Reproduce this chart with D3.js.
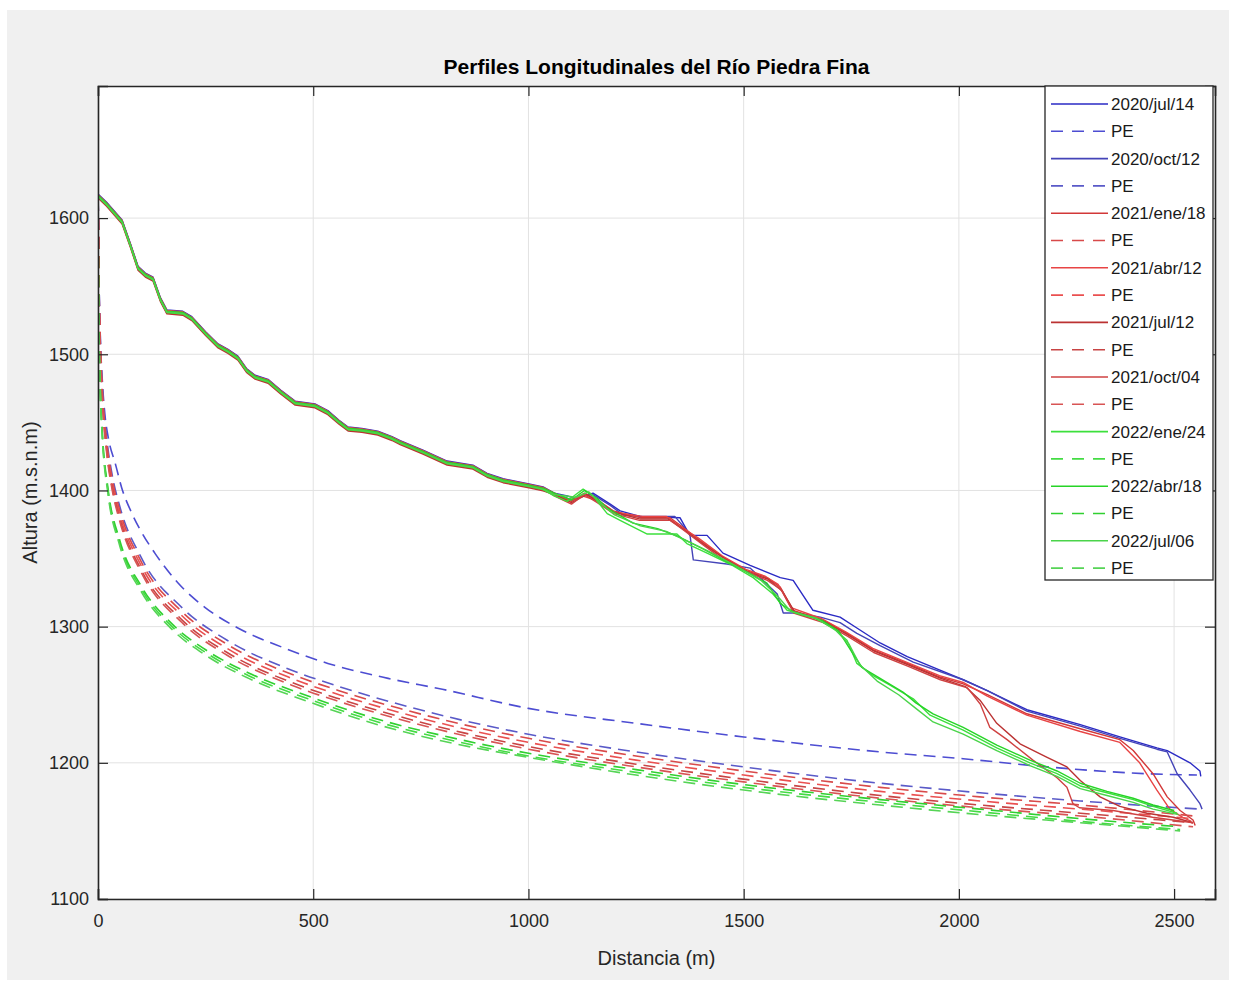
<!DOCTYPE html>
<html>
<head>
<meta charset="utf-8">
<script src="https://cdn.jsdelivr.net/npm/d3@7"></script>
<style>
  html, body { margin: 0; padding: 0; background: #ffffff; }
  svg { display: block; font-family: "Liberation Sans", Arial, Helvetica, sans-serif; }
</style>
</head>
<body>
<svg id="chart" width="1235" height="985"></svg>
<script>
// ---- Data -------------------------------------------------------------
const xTicks = [0, 500, 1000, 1500, 2000, 2500];
const yTicks = [1100, 1200, 1300, 1400, 1500, 1600];

// Shared upstream part of the surveyed river bed (distance m, elevation m.s.n.m)
const profileHead = [
  [0,1616],[20,1610],[56,1597],[75,1580],[93,1563],[110,1558],[128,1555],[145,1540],
  [160,1531],[197,1530],[218,1526],[250,1515],[279,1506],[302,1502],[325,1497],[345,1488],
  [365,1483],[395,1480],[425,1472],[458,1464],[504,1462],[534,1457],[560,1450],[581,1445],
  [613,1444],[650,1442],[683,1438],[702,1435],[755,1428],[811,1420],[871,1417],[904,1411],
  [941,1407],[1004,1403],[1034,1401]
];
// Small elevation difference of each survey along the shared upstream reach (m)
const headOffset = [1.6, 0.9, -0.7, 1.2, -1.3, 0.4, -0.4, 0.7, 0.0];

// Downstream part of each survey
const tailJul2020 = [
  [1060,1398],[1090,1396],[1110,1394],[1150,1398],[1190,1390],[1213,1385],[1259,1381],[1352,1380],
  [1375,1367],[1415,1367],[1452,1354],[1515,1345],[1585,1336],[1615,1334],[1661,1312],[1724,1307],
  [1763,1299],[1817,1288],[1880,1278],[1956,1268],[2010,1261],[2066,1253],[2158,1239],[2282,1228],
  [2374,1219],[2460,1211],[2484,1209],[2537,1200],[2560,1194],[2562,1190]
];
const tailOct2020 = [
  [1060,1398],[1100,1393],[1130,1396],[1150,1397],[1190,1389],[1220,1382],[1259,1381],[1340,1381],
  [1375,1368],[1383,1349],[1461,1346],[1515,1343],[1578,1324],[1592,1310],[1624,1310],[1678,1307],
  [1724,1303],[1763,1295],[1817,1286],[1894,1274],[2010,1261],[2066,1253],[2158,1238],[2282,1227],
  [2374,1218],[2460,1210],[2484,1208],[2507,1192],[2537,1180],[2560,1170],[2565,1166]
];
const tailEne2021 = [
  [1060,1397],[1100,1392],[1130,1398],[1160,1393],[1197,1385],[1259,1380],[1329,1380],[1359,1373],
  [1399,1363],[1452,1351],[1508,1341],[1554,1336],[1585,1329],[1615,1312],[1684,1305],[1740,1295],
  [1801,1283],[1880,1273],[1956,1263],[2010,1258],[2066,1250],[2158,1236],[2282,1225],[2374,1217],
  [2405,1209],[2451,1192],[2484,1175],[2514,1165],[2544,1158],[2549,1154]
];
const tailAbr2021 = [
  [1060,1398],[1095,1393],[1125,1396],[1165,1392],[1200,1384],[1265,1381],[1320,1381],[1350,1374],
  [1395,1365],[1450,1352],[1505,1342],[1550,1337],[1580,1331],[1610,1314],[1680,1306],[1738,1296],
  [1800,1284],[1878,1274],[1955,1264],[2010,1259],[2066,1249],[2158,1235],[2282,1223],[2374,1215],
  [2420,1200],[2460,1180],[2490,1166],[2520,1160],[2540,1157]
];
const tailJul2021 = [
  [1060,1397],[1100,1391],[1135,1397],[1160,1392],[1200,1384],[1260,1379],[1325,1379],[1362,1371],
  [1400,1362],[1455,1350],[1510,1340],[1556,1335],[1590,1326],[1618,1311],[1686,1304],[1742,1294],
  [1803,1282],[1882,1272],[1958,1262],[2015,1256],[2049,1246],[2088,1229],[2142,1214],[2205,1204],
  [2251,1197],[2282,1187],[2328,1175],[2374,1168],[2437,1163],[2498,1160],[2544,1156]
];
const tailOct2021 = [
  [1060,1396],[1100,1390],[1130,1397],[1160,1391],[1198,1383],[1258,1378],[1330,1378],[1360,1371],
  [1402,1361],[1453,1349],[1509,1340],[1555,1334],[1588,1327],[1616,1310],[1685,1303],[1741,1293],
  [1802,1281],[1881,1271],[1957,1261],[2020,1255],[2050,1243],[2072,1226],[2112,1217],[2172,1202],
  [2228,1189],[2251,1182],[2265,1170],[2280,1167],[2358,1165],[2450,1160],[2544,1156]
];
const tailEne2022 = [
  [1060,1396],[1090,1392],[1110,1397],[1127,1401],[1150,1396],[1183,1383],[1213,1378],[1276,1368],
  [1345,1368],[1368,1361],[1415,1354],[1468,1346],[1522,1336],[1568,1324],[1601,1312],[1661,1307],
  [1708,1299],[1740,1290],[1763,1273],[1801,1264],[1840,1257],[1894,1247],[1933,1235],[2010,1224],
  [2088,1211],[2165,1200],[2228,1192],[2282,1183],[2344,1178],[2405,1173],[2451,1168],[2507,1163]
];
const tailAbr2022 = [
  [1060,1398],[1100,1393],[1130,1400],[1160,1394],[1183,1387],[1243,1376],[1300,1372],[1350,1366],
  [1400,1358],[1460,1348],[1520,1338],[1554,1332],[1585,1317],[1620,1310],[1680,1305],[1720,1297],
  [1750,1282],[1775,1270],[1817,1262],[1870,1252],[1900,1244],[1940,1236],[2010,1226],[2088,1213],
  [2165,1202],[2228,1194],[2282,1185],[2344,1179],[2405,1174],[2451,1169],[2500,1165]
];
const tailJul2022 = [
  [1060,1397],[1110,1395],[1140,1399],[1170,1390],[1200,1382],[1260,1374],[1320,1370],[1360,1364],
  [1420,1355],[1480,1345],[1540,1334],[1580,1322],[1610,1311],[1670,1306],[1715,1297],[1745,1287],
  [1770,1272],[1810,1260],[1860,1250],[1900,1240],[1940,1230],[2010,1221],[2088,1209],[2165,1198],
  [2228,1190],[2282,1181],[2344,1176],[2405,1171],[2451,1166],[2510,1162]
];

// Equilibrium profiles (PE) for each survey
const peJul2020 = [
  [0,1614],[1,1600],[2,1565],[5,1517],[10,1481],[16,1456],[25,1437],[40,1420],[55,1402],[79,1383],
  [100,1370],[132,1354],[186,1332],[249,1314],[325,1299],[427,1285],[534,1273],[674,1262],[800,1254],
  [1000,1240],[1250,1229],[1500,1219],[1817,1208],[2010,1203],[2205,1197],[2437,1192],[2553,1191]
];
const peOct2020 = [
  [0,1614],[1,1603],[2,1566],[5,1516],[10,1477],[20,1439],[32,1413],[50,1389],[100,1351],[195,1314],
  [300,1290],[450,1268],[560,1256],[700,1243],[850,1231],[1000,1221],[1250,1208],[1500,1197],
  [1817,1185],[2049,1178],[2282,1172],[2560,1166]
];
const peEne2021 = [
  [0,1614],[1,1600],[2,1563],[5,1513],[10,1474],[20,1436],[32,1410],[50,1386],[100,1348],[195,1311],
  [300,1287],[450,1265],[560,1253],[700,1240],[850,1228],[1000,1218],[1250,1205],[1500,1194],
  [1817,1182],[2049,1175],[2282,1169],[2544,1161]
];
const peAbr2021 = [
  [0,1614],[1,1597],[2,1560],[5,1510],[10,1471],[20,1433],[32,1407],[50,1383],[100,1345],[195,1308],
  [300,1284],[450,1262],[560,1250],[700,1237],[850,1225],[1000,1215],[1250,1202],[1500,1191],
  [1817,1179],[2049,1172],[2282,1166],[2544,1159]
];
const peJul2021 = [
  [0,1614],[1,1594],[2,1557],[5,1507],[10,1468],[20,1430],[32,1404],[50,1380],[100,1342],[195,1305],
  [300,1281],[450,1259],[560,1247],[700,1234],[850,1222],[1000,1212],[1250,1199],[1500,1188],
  [1817,1176],[2049,1169],[2282,1163],[2544,1156]
];
const peOct2021 = [
  [0,1614],[1,1592],[2,1555],[5,1505],[10,1466],[20,1428],[32,1402],[50,1378],[100,1340],[195,1303],
  [300,1279],[450,1257],[560,1245],[700,1232],[850,1220],[1000,1210],[1250,1197],[1500,1186],
  [1817,1174],[2049,1167],[2282,1161],[2544,1153]
];
const peEne2022 = [
  [0,1614],[1,1556],[2,1522],[5,1476],[10,1441],[23,1400],[50,1362],[100,1328],[172,1300],[250,1281],
  [350,1264],[488,1247],[650,1230],[800,1218],[1000,1205],[1250,1193],[1500,1182],[1817,1171],
  [2049,1164],[2282,1157],[2514,1151]
];
const peAbr2022 = [
  [0,1614],[1,1558],[2,1524],[5,1478],[10,1443],[23,1402],[50,1364],[100,1330],[172,1302],[250,1283],
  [350,1266],[488,1249],[650,1232],[800,1220],[1000,1207],[1250,1195],[1500,1184],[1817,1173],
  [2049,1166],[2282,1159],[2514,1153]
];
const peJul2022 = [
  [0,1614],[1,1554],[2,1520],[5,1474],[10,1439],[23,1398],[50,1360],[100,1326],[172,1298],[250,1279],
  [350,1262],[488,1245],[650,1228],[800,1216],[1000,1204],[1250,1191],[1500,1180],[1817,1169],
  [2049,1162],[2282,1156],[2514,1150]
];

const surveyDates = ['2020/jul/14','2020/oct/12','2021/ene/18','2021/abr/12','2021/jul/12',
                     '2021/oct/04','2022/ene/24','2022/abr/18','2022/jul/06'];
const profileTails = [tailJul2020, tailOct2020, tailEne2021, tailAbr2021, tailJul2021,
                      tailOct2021, tailEne2022, tailAbr2022, tailJul2022];
const equilibriumProfiles = [peJul2020, peOct2020, peEne2021, peAbr2021, peJul2021,
                             peOct2021, peEne2022, peAbr2022, peJul2022];
const lineColors = ['#2a2ac4','#4444b8','#d23838','#e84444','#bb3232','#cf4242','#3ce03c','#26d426','#4ad44a'];
const peColors   = ['#4d4dd2','#5a5ac8','#d84a4a','#ea5050','#c84444','#d85454','#44dc44','#30d030','#56d456'];

// ---- Layout -----------------------------------------------------------
const plot = { left: 98, right: 1215, top: 86, bottom: 899 };
const ink = '#262626';

const svg = d3.select('#chart');

// figure background
svg.append('rect').attr('x', 7).attr('y', 10).attr('width', 1222).attr('height', 970).attr('fill', '#f0f0f0');
svg.append('rect')
  .attr('x', plot.left).attr('y', plot.top)
  .attr('width', plot.right - plot.left).attr('height', plot.bottom - plot.top)
  .attr('fill', '#ffffff');

const x = d3.scaleLinear().domain([0, 2595]).range([plot.left, plot.right]);
const y = d3.scaleLinear().domain([1100, 1697]).range([plot.bottom, plot.top]);

// grid
const grid = svg.append('g').attr('stroke', '#e2e2e2').attr('stroke-width', 1);
grid.selectAll('line.gx').data(xTicks).join('line')
  .attr('x1', d => x(d)).attr('x2', d => x(d))
  .attr('y1', plot.top).attr('y2', plot.bottom);
grid.selectAll('line.gy').data(yTicks).join('line')
  .attr('y1', d => y(d)).attr('y2', d => y(d))
  .attr('x1', plot.left).attr('x2', plot.right);

// clip
svg.append('clipPath').attr('id', 'plotClip').append('rect')
  .attr('x', plot.left).attr('y', plot.top)
  .attr('width', plot.right - plot.left).attr('height', plot.bottom - plot.top);

const lines = svg.append('g').attr('clip-path', 'url(#plotClip)').attr('fill', 'none');
const solidLine = d3.line().x(d => x(d[0])).y(d => y(d[1]));
const peLine = d3.line().x(d => x(d[0])).y(d => y(d[1])).curve(d3.curveMonotoneX);

surveyDates.forEach((name, i) => {
  const head = profileHead.map(([d, h]) => [d, h + headOffset[i]]);
  lines.append('path')
    .datum(head.concat(profileTails[i]))
    .attr('d', solidLine)
    .attr('stroke', lineColors[i])
    .attr('stroke-width', 1.4)
    .attr('stroke-linejoin', 'round');
  lines.append('path')
    .datum(equilibriumProfiles[i])
    .attr('d', peLine)
    .attr('stroke', peColors[i])
    .attr('stroke-width', 1.6)
    .attr('stroke-dasharray', '12,7');
});

// axes (ticks point inward, box on all four sides)
const tickLen = 10;
const axisFont = 18;
const axB = svg.append('g').attr('transform', `translate(0,${plot.bottom})`)
  .call(d3.axisBottom(x).tickValues(xTicks).tickSize(-tickLen).tickPadding(14).tickFormat(d3.format('d')));
const axT = svg.append('g').attr('transform', `translate(0,${plot.top})`)
  .call(d3.axisTop(x).tickValues(xTicks).tickSize(-tickLen).tickFormat(''));
const axL = svg.append('g').attr('transform', `translate(${plot.left},0)`)
  .call(d3.axisLeft(y).tickValues(yTicks).tickSize(-tickLen).tickPadding(9).tickFormat(d3.format('d')));
const axR = svg.append('g').attr('transform', `translate(${plot.right},0)`)
  .call(d3.axisRight(y).tickValues(yTicks).tickSize(-tickLen).tickFormat(''));
[axB, axT, axL, axR].forEach(a => {
  a.select('.domain').attr('stroke', ink).attr('stroke-width', 1.6);
  a.selectAll('.tick line').attr('stroke', ink).attr('stroke-width', 1.2);
  a.selectAll('.tick text').attr('fill', ink).attr('font-size', axisFont)
    .attr('font-family', '"Liberation Sans", Arial, sans-serif');
});
axB.selectAll('.tick text').attr('dy', '0.78em');

// titles
svg.append('text')
  .attr('x', (plot.left + plot.right) / 2).attr('y', 74)
  .attr('text-anchor', 'middle').attr('font-size', 21).attr('font-weight', 'bold').attr('fill', '#000')
  .text('Perfiles Longitudinales del Río Piedra Fina');
svg.append('text')
  .attr('x', (plot.left + plot.right) / 2).attr('y', 965)
  .attr('text-anchor', 'middle').attr('font-size', 20).attr('fill', ink)
  .text('Distancia (m)');
svg.append('text')
  .attr('transform', `translate(37,${(plot.top + plot.bottom) / 2}) rotate(-90)`)
  .attr('text-anchor', 'middle').attr('font-size', 20).attr('fill', ink)
  .text('Altura (m.s.n.m)');

// legend
const legend = svg.append('g');
const lg = { x: 1045, y: 86, w: 168, h: 494, row: 27.3, first: 104 };
legend.append('rect')
  .attr('x', lg.x).attr('y', lg.y).attr('width', lg.w).attr('height', lg.h)
  .attr('fill', '#ffffff').attr('stroke', ink).attr('stroke-width', 1.3);
const entries = [];
surveyDates.forEach((name, i) => {
  entries.push({ label: name, color: lineColors[i], dashed: false });
  entries.push({ label: 'PE', color: peColors[i], dashed: true });
});
const rows = legend.selectAll('g.entry').data(entries).join('g')
  .attr('transform', (d, i) => `translate(0,${lg.first + i * lg.row})`);
rows.append('line')
  .attr('x1', 1051).attr('x2', 1108).attr('y1', 0).attr('y2', 0)
  .attr('stroke', d => d.color).attr('stroke-width', 1.6)
  .attr('stroke-dasharray', d => d.dashed ? '12,9' : null);
rows.append('text')
  .attr('x', 1111).attr('y', 0).attr('dy', '0.35em')
  .attr('font-size', 17).attr('fill', '#1a1a1a')
  .text(d => d.label);
</script>
</body>
</html>
